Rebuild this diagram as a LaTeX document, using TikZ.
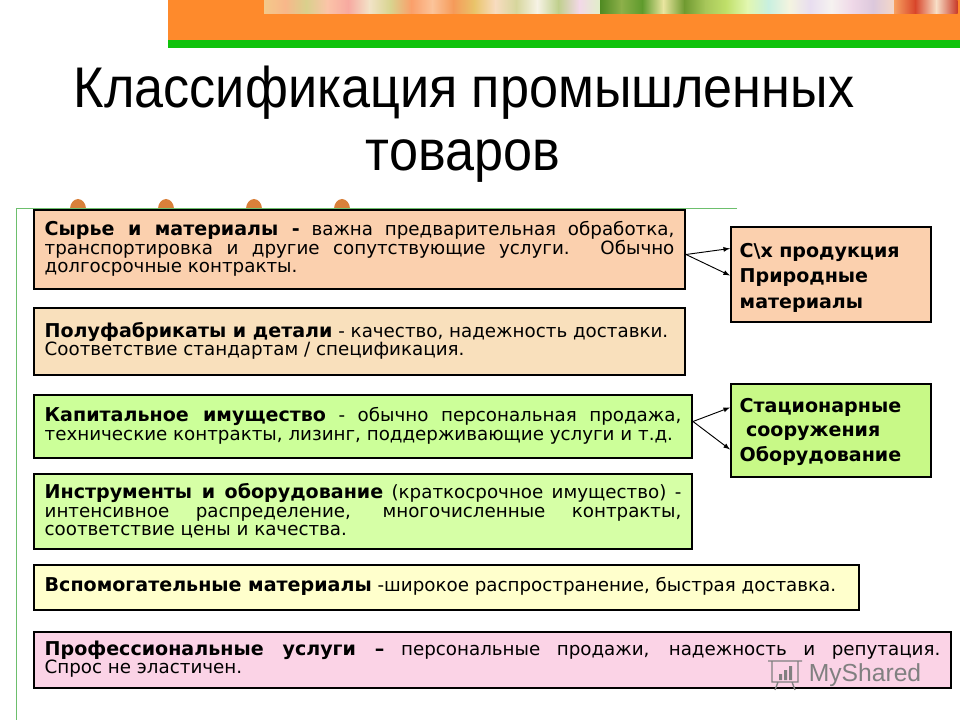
\documentclass[tikz,border=0pt]{standalone}
\usepackage{fontspec}
\setmainfont{DejaVu Sans}
\newfontfamily\titlefont{Liberation Sans}
\usetikzlibrary{calc,arrows}
\definecolor{peach}{HTML}{FBD0AE}
\definecolor{cream}{HTML}{F9E0BC}
\definecolor{lime}{HTML}{CCFF99}
\definecolor{limetwo}{HTML}{D6FFA6}
\definecolor{sidelime}{HTML}{C8F987}
\definecolor{lemon}{HTML}{FFFFCC}
\definecolor{rose}{HTML}{FBD3E6}
\definecolor{bannerorange}{HTML}{FE8A2C}
\definecolor{bannergreen}{HTML}{10C20C}
\definecolor{framegreen}{HTML}{6DBF6D}
\definecolor{beadbrown}{HTML}{D9803A}
\newcommand{\headtext}[1]{{\bfseries\fontsize{14.3}{13.4}\selectfont #1}}
\tikzset{
	textbox/.style={draw=black,line width=1.5pt,anchor=north west,align=justify,inner xsep=8pt,inner ysep=0pt,font=\fontsize{13.7}{13.6}\selectfont,execute at end node={\par\vspace{1pt}}},
	sidebox/.style={draw=black,line width=1.5pt,anchor=north west,align=left,inner xsep=6.5pt,inner ysep=0pt,text width=137pt,font=\bfseries\fontsize{14.3}{19}\selectfont},
	titletext/.style={anchor=base,font=\titlefont\fontsize{43}{43}\selectfont,inner sep=0pt,xscale=0.91},
	flowarrow/.style={-latex,line width=0.7pt},
	markgrey/.style={black!50}
}
\begin{document}
\begin{tikzpicture}[x=0.75pt,y=-0.75pt]
	\useasboundingbox (0,0) rectangle (960,720);
	% banner
	\fill[bannerorange] (168,0) rectangle (960,40);
	\fill[bannergreen] (168,40) rectangle (960,48);
	\foreach \x/\a/\b in {264/F3C98A/F8B78A,285/F8B78A/D9D08C,306/D9D08C/FBC4A8,327/FBC4A8/F7A9A0,348/F7A9A0/F2E3C8,369/F2E3C8/D8D48F,390/D8D48F/FA9F6A,411/FA9F6A/FBC49A,432/FBC49A/F59A5A,453/F59A5A/E9C46A,474/E9C46A/F8DCC0,495/F8DCC0/D6D69C,516/D6D69C/F7F3E6,537/F7F3E6/BFCF8C,558/BFCF8C/F3D8E8,579/F3D8E8/E0EFC8,600/4F8A22/8DB04A,621/8DB04A/5E9A2C,642/5E9A2C/EAE6A0,663/EAE6A0/6F9A30,684/6F9A30/A7C65A,705/A7C65A/C0E06A,726/C0E06A/E2F7B0,747/E2F7B0/C8F0E0,768/C8F0E0/F4F4E0,789/F4F4E0/E8DDF0,810/E8DDF0/F6F2F0,831/F6F2F0/EFD8E8,852/EFD8E8/DCC8DC,873/DCC8DC/F4D8C8,894/F7A060/D8452A,915/D8452A/F8E0C8,936/F8E0C8/C83A28}{
		\definecolor{cellleft}{HTML}{\a}
		\definecolor{cellright}{HTML}{\b}
		\shade[left color=cellleft,right color=cellright] (\x,0) rectangle ++(21.5,14);
	}
	% frame and beads
	\foreach \x in {78,166,254,342}
		\fill[beadbrown] (\x,209) ellipse (8 and 10);
	\draw[framegreen,line width=0.7pt] (737,208) -- (16,208) -- (16,720);
	% title
	\node[titletext] (title1) at (464,108) {Классификация промышленных};
	\node[titletext] (title2) at (463,171) {товаров};
	% left boxes
	\node[textbox,fill=peach,text width=472.25pt,minimum height=59.25pt] (raw) at (33,209) {\headtext{Сырье и материалы -} важна предварительная обработка,\linebreak транспортировка и другие сопутствующие услуги. Обычно\linebreak долгосрочные контракты.};
	\node[textbox,fill=cream,text width=472.25pt,minimum height=50.25pt] (semi) at (33,307) {\headtext{Полуфабрикаты и детали} - качество, надежность доставки.\\[-0.8pt] Соответствие стандартам / спецификация.};
	\node[textbox,fill=lime,text width=477.5pt,minimum height=47.25pt] (capital) at (33,394) {\headtext{Капитальное имущество} - обычно персональная продажа,\linebreak технические контракты, лизинг, поддерживающие услуги и т.д.};
	\node[textbox,fill=limetwo,text width=477.5pt,minimum height=56.25pt] (tools) at (33,473) {\headtext{Инструменты и оборудование} (краткосрочное имущество) -\linebreak интенсивное распределение, многочисленные контракты,\linebreak соответствие цены и качества.};
	\node[textbox,fill=lemon,text width=602.75pt,minimum height=33.75pt,execute at end node={}] (aux) at (33,564) {\headtext{Вспомогательные материалы} -широкое распространение, быстрая доставка.};
	\node[textbox,fill=rose,text width=671.75pt,minimum height=42pt] (prof) at (33,631) {\headtext{Профессиональные услуги –} персональные продажи, надежность и репутация.\linebreak Спрос не эластичен.};
	% right boxes
	\node[sidebox,fill=peach,minimum height=71.25pt] (farm) at (730,226) {\rule{0pt}{15.5pt}С\textbackslash х продукция\\Природные\\материалы};
	\node[sidebox,fill=sidelime,minimum height=69.75pt] (fixed) at (730,383) {\rule{0pt}{12.5pt}Стационарные\\[-0.75pt] \ сооружения\\[-0.75pt]Оборудование};
	% arrows
	\draw[flowarrow] ([yshift=-3.75pt]raw.east) -- ([yshift=19.5pt]farm.west);
	\draw[flowarrow] ([yshift=-3.75pt]raw.east) -- ([yshift=-0.75pt]farm.west);
	\draw[flowarrow] ([yshift=3.75pt]capital.east) -- ([yshift=17.25pt]fixed.west);
	\draw[flowarrow] ([yshift=3.75pt]capital.east) -- ([yshift=-14.25pt]fixed.west);
	% watermark
	\draw[markgrey,line width=1pt] (768,661) -- (802,661) (772,661) rectangle (798,682) (778,682) -- (775,690) (792,682) -- (795,690);
	\fill[markgrey] (779,674) rectangle (782,680) (784,670) rectangle (787,680) (789,666) rectangle (792,680);
	\node[text=black!50,inner sep=0pt,font=\titlefont\fontsize{18.5}{18.5}\selectfont] (mark) at (865,675) {MyShared};
\end{tikzpicture}
\end{document}
